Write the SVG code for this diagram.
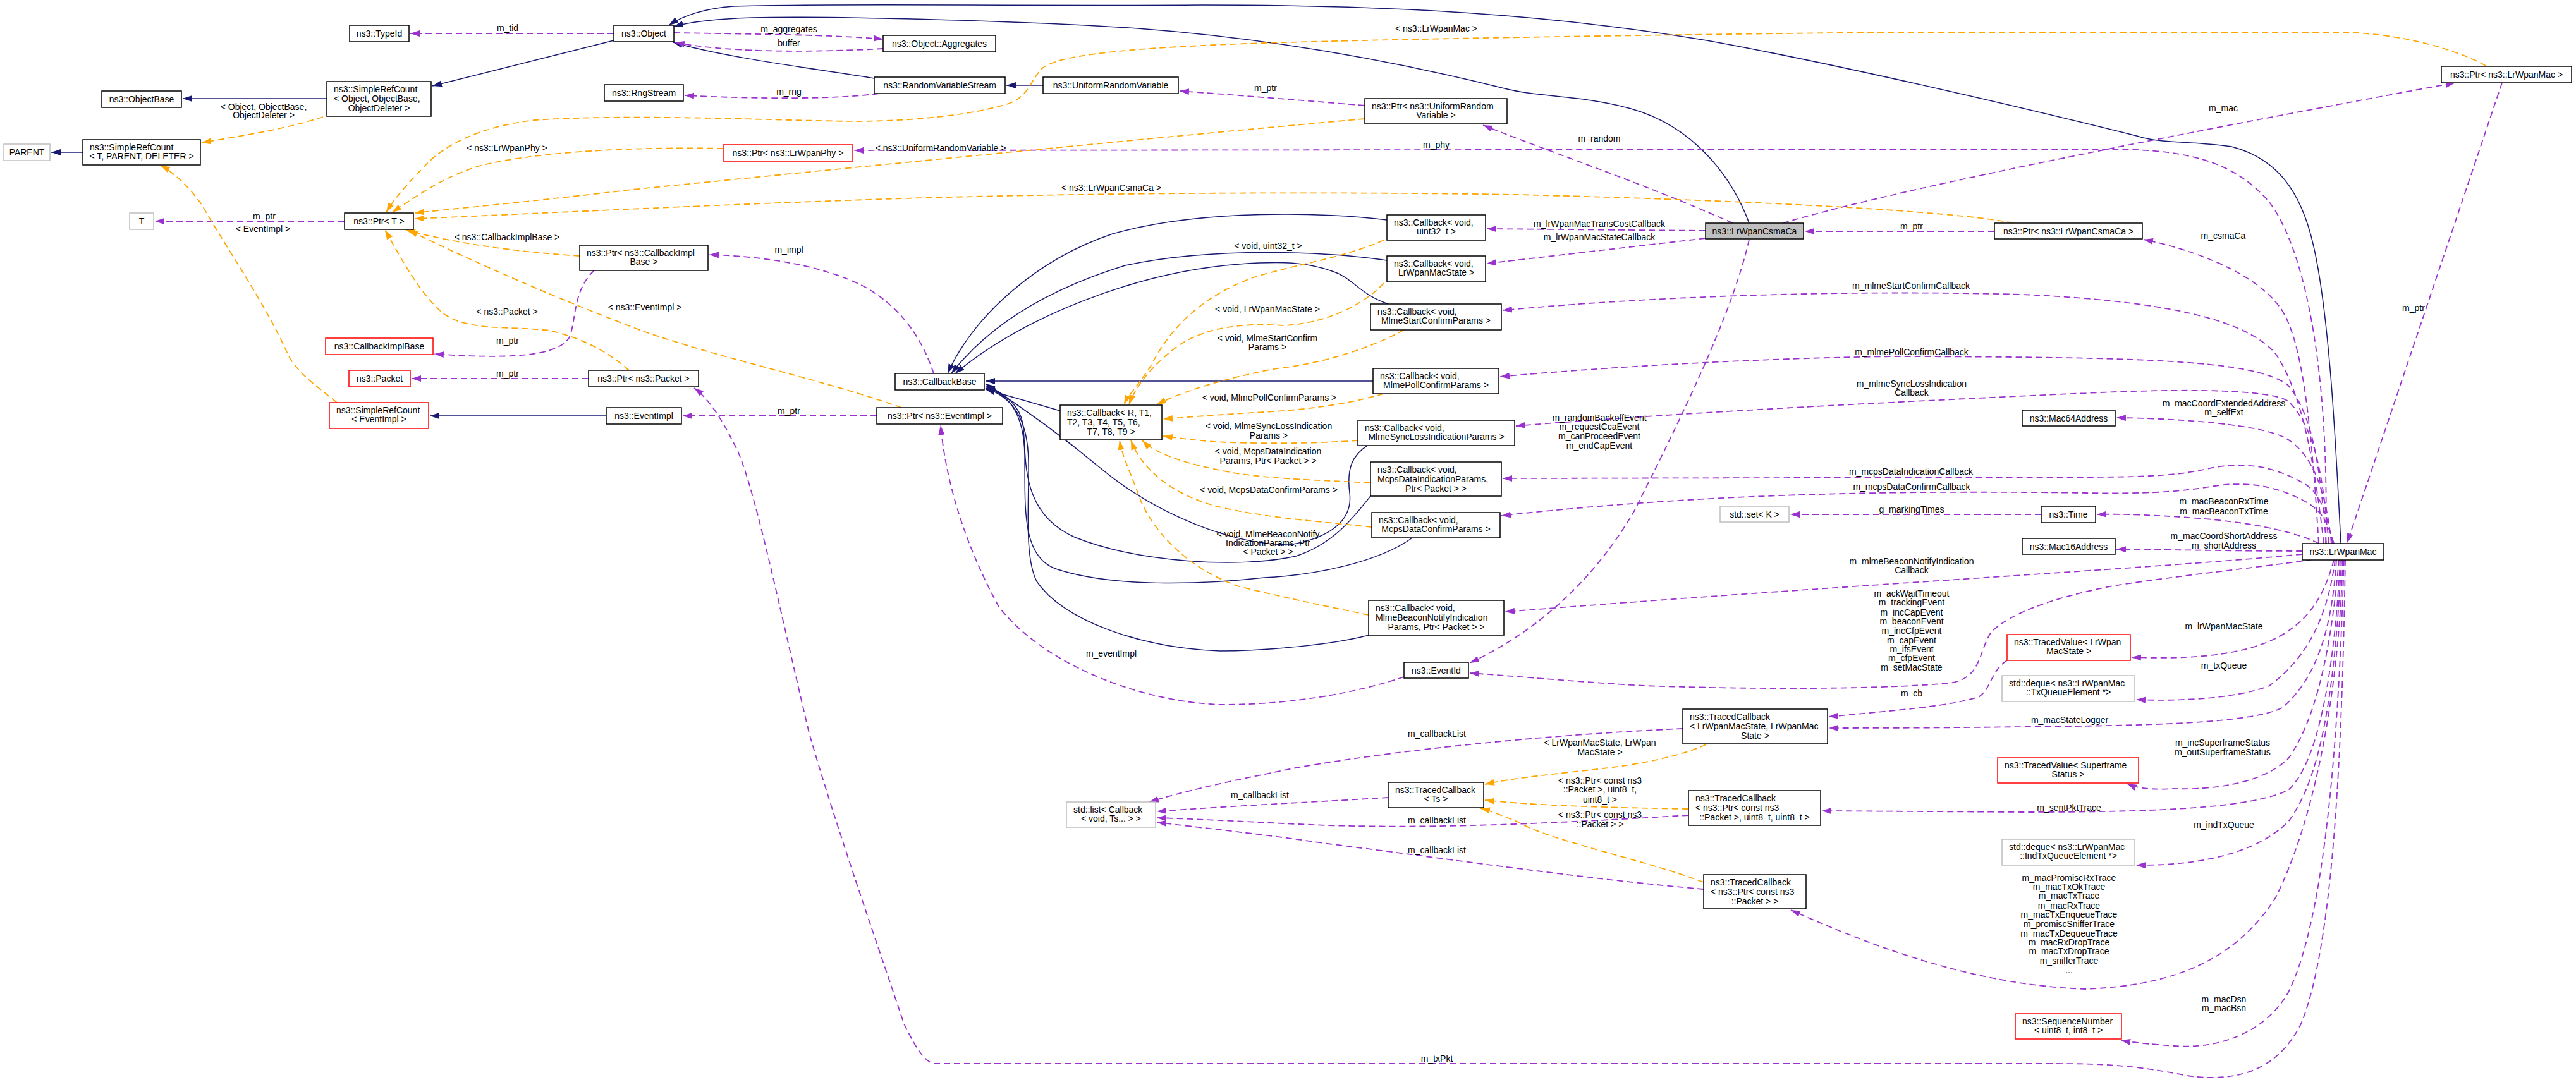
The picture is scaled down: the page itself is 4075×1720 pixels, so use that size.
<svg xmlns="http://www.w3.org/2000/svg" width="4075" height="1720" viewBox="0 0 4075 1720">
<style>
.n rect{fill:#fff;stroke:#000;stroke-width:1.5}
.n.red rect{stroke:#ff0000}
.n.ext rect{stroke:#bfbfbf}
.n.focus rect{fill:#bfbfbf}
text{font-family:"Liberation Sans",Arial,sans-serif;font-size:14px;fill:#000}
.c{text-anchor:middle}
.inh{fill:none;stroke:#191970;stroke-width:1.5;marker-end:url(#mb)}
.mem{fill:none;stroke:#9a32cd;stroke-width:1.8;stroke-dasharray:10,6;marker-end:url(#mp)}
.tpl{fill:none;stroke:#ffa500;stroke-width:1.8;stroke-dasharray:10,6;marker-end:url(#mo)}
</style>
<defs>
<marker id="mb" markerUnits="userSpaceOnUse" markerWidth="16" markerHeight="12" refX="15" refY="5" orient="auto"><path d="M0,0 L15,5 L0,10 z" fill="#191970"/></marker>
<marker id="mp" markerUnits="userSpaceOnUse" markerWidth="16" markerHeight="12" refX="15" refY="5" orient="auto"><path d="M0,0 L15,5 L0,10 z" fill="#9a32cd"/></marker>
<marker id="mo" markerUnits="userSpaceOnUse" markerWidth="16" markerHeight="12" refX="15" refY="5" orient="auto"><path d="M0,0 L15,5 L0,10 z" fill="#ffa500"/></marker>
</defs>
<rect x="0" y="0" width="4075" height="1720" fill="#fff"/>
<g id="connectors">
<path class="inh" d="M517,156 L289,156"/>
<path class="inh" d="M971,64 L684,136"/>
<path class="inh" d="M131,241 L81,241"/>
<path class="inh" d="M1383,124 C1300,110 1150,92 1065,67"/>
<path class="inh" d="M1650,135 L1592,135"/>
<path class="inh" d="M959,658 L680,658"/>
<path class="inh" d="M2194,348 C2100,336 1900,330 1760,370 C1640,410 1540,500 1499,591"/>
<path class="inh" d="M2194,412 C2100,398 1920,390 1780,420 C1650,460 1560,520 1505,591"/>
<path class="inh" d="M2196,481 C2150,465 2140,440 2110,430 C2070,415 2030,413 1960,418 C1800,430 1620,500 1511,591"/>
<path class="inh" d="M2172,603 L1559,603"/>
<path class="inh" d="M1677,650 L1559,616"/>
<path class="inh" d="M2163,705 C2140,720 2130,740 2135,780 C2140,820 2110,850 2040,862 C1950,862 1830,815 1740,740 C1680,690 1610,640 1559,607"/>
<path class="inh" d="M2168,785 C2140,820 2110,860 2050,880 C1960,900 1800,890 1700,850 C1610,810 1625,720 1618,670 C1612,640 1590,622 1559,610"/>
<path class="inh" d="M2234,851 C2180,890 2080,910 2000,914 C1900,925 1760,930 1670,900 C1615,880 1622,800 1621,720 C1620,660 1600,625 1559,612"/>
<path class="inh" d="M2165,1005 C2110,1020 2000,1030 1930,1030 C1800,1025 1680,980 1640,920 C1620,880 1628,800 1627,730 C1626,660 1600,628 1559,614"/>
<path class="inh" d="M2767,353 C2740,280 2680,200 2580,172 C2500,150 2440,155 2380,140 C2200,95 2000,60 1800,45 C1600,32 1300,25 1190,28 C1130,30 1090,35 1066,42"/>
<path class="inh" d="M3703,860 C3695,700 3685,500 3660,390 C3640,300 3600,250 3530,232 C3460,222 3420,228 3380,215 C3200,170 2900,100 2700,64 C2450,22 2200,8 1900,8 C1600,10 1300,5 1160,10 C1110,14 1080,25 1058,40"/>

<path class="mem" d="M971,53 L649,53"/>
<path class="mem" d="M545,350 L245,350"/>
<path class="mem" d="M1066,52 C1200,54 1320,55 1397,62"/>
<path class="mem" d="M1397,77 C1300,82 1160,85 1068,67"/>
<path class="mem" d="M1390,148 C1330,157 1200,157 1083,151"/>
<path class="mem" d="M2159,167 C2050,158 1950,150 1866,144"/>
<path class="mem" d="M3679,860 C3685,600 3650,400 3590,320 C3530,250 3450,236 3329,236 L1351,238"/>
<path class="mem" d="M2741,353 C2600,290 2450,240 2346,198"/>
<path class="mem" d="M2698,365 L2352,362"/>
<path class="mem" d="M2698,377 L2352,417"/>
<path class="mem" d="M2820,353 C3000,300 3400,220 3884,131"/>
<path class="mem" d="M2767,379 C2740,500 2650,680 2585,809 C2520,920 2430,1000 2325,1049"/>
<path class="mem" d="M3155,366 L2855,366"/>
<path class="mem" d="M3668,860 C3655,650 3640,520 3600,478 C3560,430 3470,395 3391,379"/>
<path class="mem" d="M3958,131 L3713,859"/>
<path class="mem" d="M3676,860 C3660,720 3640,620 3600,560 C3550,500 3400,475 3200,466 C2900,458 2600,470 2377,491"/>
<path class="mem" d="M3680,860 C3670,740 3660,660 3620,610 C3570,570 3400,565 3000,564 C2800,566 2550,580 2373,596"/>
<path class="mem" d="M3684,860 C3675,760 3665,680 3620,635 C3590,615 3450,615 3300,622 C3000,636 2700,650 2398,674"/>
<path class="mem" d="M3688,860 C3680,780 3660,720 3617,694 C3580,672 3450,662 3348,661"/>
<path class="mem" d="M3690,860 C3680,810 3670,780 3645,765 C3600,740 3560,730 3500,740 C3450,752 3400,755 3300,755 L2377,757"/>
<path class="mem" d="M3692,860 C3680,820 3670,805 3640,790 C3600,770 3560,762 3510,768 C3460,776 3420,782 3300,780 C3000,776 2700,780 2375,816"/>
<path class="mem" d="M3229,814 L2832,814"/>
<path class="mem" d="M3668,860 C3640,845 3580,830 3500,822 C3420,815 3360,813 3317,814"/>
<path class="mem" d="M3642,872 C3550,872 3450,870 3348,869"/>
<path class="mem" d="M3642,877 C3400,900 3000,920 2381,968"/>
<path class="mem" d="M3658,885 C3600,895 3450,910 3343,927 C3250,945 3180,970 3150,1000 C3130,1030 3135,1070 3090,1080 C3000,1090 2800,1092 2600,1085 C2480,1078 2400,1070 2325,1065"/>
<path class="mem" d="M3175,1045 C3150,1060 3150,1090 3130,1103 C3080,1118 3000,1124 2893,1134"/>
<path class="mem" d="M3692,886 C3680,930 3660,980 3600,1010 C3540,1040 3450,1043 3372,1040"/>
<path class="mem" d="M3694,886 C3685,950 3665,1030 3590,1085 C3540,1105 3450,1110 3379,1107"/>
<path class="mem" d="M3696,886 C3690,980 3670,1070 3610,1120 C3560,1145 3400,1148 3200,1150 C3050,1152 2950,1152 2893,1152"/>
<path class="mem" d="M3700,886 C3690,1000 3670,1130 3620,1200 C3580,1240 3500,1250 3440,1248 C3400,1250 3380,1247 3365,1240"/>
<path class="mem" d="M3702,886 C3695,1020 3675,1200 3620,1250 C3560,1280 3400,1285 3200,1285 L2882,1283"/>
<path class="mem" d="M3704,886 C3695,1050 3680,1220 3620,1300 C3570,1350 3480,1370 3379,1369"/>
<path class="mem" d="M3706,886 C3700,1100 3660,1300 3600,1420 C3530,1530 3420,1560 3300,1565 C3150,1560 3000,1515 2833,1440"/>
<path class="mem" d="M3708,886 C3700,1150 3680,1450 3620,1570 C3580,1640 3500,1660 3440,1655 C3400,1652 3375,1650 3355,1646"/>
<path class="mem" d="M3710,886 C3705,1200 3690,1500 3640,1620 C3600,1700 3530,1712 3460,1702 C3380,1686 3330,1683 3250,1683 L1478,1683 C1460,1680 1445,1650 1430,1620 C1390,1500 1320,1300 1280,1160 C1230,950 1190,750 1160,700 C1140,660 1120,630 1098,614"/>
<path class="mem" d="M931,599 L651,599"/>
<path class="mem" d="M1387,658 L1080,658"/>
<path class="mem" d="M940,428 C905,460 912,510 900,535 C880,565 800,568 687,560"/>
<path class="mem" d="M1477,591 C1460,540 1430,490 1370,455 C1300,418 1200,405 1122,403"/>
<path class="mem" d="M2221,1071 C2150,1095 2050,1115 1930,1115 C1800,1110 1650,1050 1580,960 C1520,850 1495,750 1488,673"/>
<path class="mem" d="M2662,1153 C2500,1160 2250,1180 2050,1215 C1950,1235 1880,1250 1818,1269"/>
<path class="mem" d="M2196,1262 C2100,1268 1950,1275 1830,1284"/>
<path class="mem" d="M2671,1290 C2500,1300 2300,1312 2100,1306 C2000,1302 1900,1296 1830,1294"/>
<path class="mem" d="M2695,1407 C2500,1390 2300,1360 2100,1335 C2000,1320 1900,1310 1830,1301"/>

<path class="tpl" d="M511,185 C450,205 380,215 319,226"/>
<path class="tpl" d="M533,637 C500,610 470,590 455,560 C420,480 350,380 320,325 C295,290 270,270 254,262"/>
<path class="tpl" d="M3932,104 C3890,80 3800,52 3700,51 L3000,51 C2600,55 2200,62 2000,68 C1800,75 1680,85 1650,107 C1630,125 1630,150 1598,163 C1550,180 1450,192 1351,192 C1200,190 1000,180 846,190 C760,200 700,230 670,265 C640,295 620,320 611,336"/>
<path class="tpl" d="M1144,235 C1000,232 850,240 760,262 C700,280 660,310 620,336"/>
<path class="tpl" d="M2159,188 C1800,220 1300,270 1000,300 C850,318 720,330 656,337"/>
<path class="tpl" d="M3185,353 C3100,335 2800,318 2400,308 C2100,303 1700,305 1400,315 C1100,325 850,338 656,346"/>
<path class="tpl" d="M917,405 C840,400 740,390 642,364"/>
<path class="tpl" d="M995,586 C960,555 920,535 870,523 C800,515 740,525 700,495 C660,460 630,400 609,364"/>
<path class="tpl" d="M1426,645 C1300,600 1150,570 1020,525 C900,480 760,420 646,364"/>
<path class="tpl" d="M2189,380 C2120,410 2040,420 1980,440 C1900,470 1850,520 1820,580 C1800,610 1785,625 1778,640"/>
<path class="tpl" d="M2189,448 C2160,480 2100,512 2030,515 C1960,510 1900,520 1860,550 C1820,580 1795,615 1786,640"/>
<path class="tpl" d="M2221,522 C2180,545 2100,575 2020,583 C1930,600 1870,620 1830,640"/>
<path class="tpl" d="M2189,623 C2130,640 2070,648 2000,652 C1930,656 1880,660 1840,663"/>
<path class="tpl" d="M2148,697 C2080,702 2000,702 1940,700 C1900,698 1870,694 1840,690"/>
<path class="tpl" d="M2168,764 C2100,760 2020,759 1950,748 C1880,735 1830,720 1807,697"/>
<path class="tpl" d="M2170,834 C2100,826 2000,820 1920,800 C1850,780 1805,740 1789,697"/>
<path class="tpl" d="M2165,973 C2100,960 2030,945 1960,928 C1880,900 1820,840 1800,780 C1785,740 1775,720 1771,697"/>
<path class="tpl" d="M2699,1178 C2650,1200 2580,1212 2500,1220 C2430,1228 2390,1232 2349,1241"/>
<path class="tpl" d="M2671,1280 C2550,1278 2430,1275 2349,1266"/>
<path class="tpl" d="M2695,1396 C2600,1360 2450,1330 2400,1300 C2370,1288 2355,1282 2342,1279"/>
</g>
<g id="edge-labels">
<text class="c" x="803" y="49">m_tid</text>
<text class="c" x="1248" y="51">m_aggregates</text>
<text class="c" x="1248" y="73">buffer</text>
<text class="c" x="417" y="174">&lt; Object, ObjectBase,</text>
<text class="c" x="417" y="187">ObjectDeleter &gt;</text>
<text class="c" x="1248" y="150">m_rng</text>
<text class="c" x="2002" y="144">m_ptr</text>
<text class="c" x="2272" y="50">&lt; ns3::LrWpanMac &gt;</text>
<text class="c" x="2530" y="224">m_random</text>
<text class="c" x="2272" y="234">m_phy</text>
<text class="c" x="802" y="239">&lt; ns3::LrWpanPhy &gt;</text>
<text class="c" x="1488" y="239">&lt; ns3::UniformRandomVariable &gt;</text>
<text class="c" x="1758" y="302">&lt; ns3::LrWpanCsmaCa &gt;</text>
<text class="c" x="3517" y="176">m_mac</text>
<text class="c" x="418" y="347">m_ptr</text>
<text class="c" x="416" y="367">&lt; EventImpl &gt;</text>
<text class="c" x="2530" y="359">m_lrWpanMacTransCostCallback</text>
<text class="c" x="2530" y="380">m_lrWpanMacStateCallback</text>
<text class="c" x="3024" y="363">m_ptr</text>
<text class="c" x="3517" y="378">m_csmaCa</text>
<text class="c" x="802" y="380">&lt; ns3::CallbackImplBase &gt;</text>
<text class="c" x="1248" y="400">m_impl</text>
<text class="c" x="2006" y="394">&lt; void, uint32_t &gt;</text>
<text class="c" x="3023" y="457">m_mlmeStartConfirmCallback</text>
<text class="c" x="1020" y="491">&lt; ns3::EventImpl &gt;</text>
<text class="c" x="802" y="498">&lt; ns3::Packet &gt;</text>
<text class="c" x="803" y="544">m_ptr</text>
<text class="c" x="2005" y="494">&lt; void, LrWpanMacState &gt;</text>
<text class="c" x="2005" y="540">&lt; void, MlmeStartConfirm</text>
<text class="c" x="2005" y="554">Params &gt;</text>
<text class="c" x="3024" y="562">m_mlmePollConfirmCallback</text>
<text class="c" x="3818" y="492">m_ptr</text>
<text class="c" x="803" y="596">m_ptr</text>
<text class="c" x="3024" y="612">m_mlmeSyncLossIndication</text>
<text class="c" x="3024" y="626">Callback</text>
<text class="c" x="2008" y="634">&lt; void, MlmePollConfirmParams &gt;</text>
<text class="c" x="3518" y="643">m_macCoordExtendedAddress</text>
<text class="c" x="3518" y="657">m_selfExt</text>
<text class="c" x="1248" y="655">m_ptr</text>
<text class="c" x="2530" y="666">m_randomBackoffEvent</text>
<text class="c" x="2530" y="680">m_requestCcaEvent</text>
<text class="c" x="2530" y="695">m_canProceedEvent</text>
<text class="c" x="2530" y="710">m_endCapEvent</text>
<text class="c" x="2007" y="679">&lt; void, MlmeSyncLossIndication</text>
<text class="c" x="2007" y="694">Params &gt;</text>
<text class="c" x="2006" y="719">&lt; void, McpsDataIndication</text>
<text class="c" x="2006" y="734">Params, Ptr&lt; Packet &gt; &gt;</text>
<text class="c" x="3023" y="751">m_mcpsDataIndicationCallback</text>
<text class="c" x="3024" y="775">m_mcpsDataConfirmCallback</text>
<text class="c" x="2007" y="780">&lt; void, McpsDataConfirmParams &gt;</text>
<text class="c" x="3518" y="798">m_macBeaconRxTime</text>
<text class="c" x="3518" y="814">m_macBeaconTxTime</text>
<text class="c" x="3024" y="811">g_markingTimes</text>
<text class="c" x="2006" y="850">&lt; void, MlmeBeaconNotify</text>
<text class="c" x="2006" y="864">IndicationParams, Ptr</text>
<text class="c" x="2006" y="878">&lt; Packet &gt; &gt;</text>
<text class="c" x="3518" y="853">m_macCoordShortAddress</text>
<text class="c" x="3518" y="868">m_shortAddress</text>
<text class="c" x="3024" y="893">m_mlmeBeaconNotifyIndication</text>
<text class="c" x="3024" y="907">Callback</text>
<text class="c" x="3024" y="944">m_ackWaitTimeout</text>
<text class="c" x="3024" y="958">m_trackingEvent</text>
<text class="c" x="3024" y="974">m_incCapEvent</text>
<text class="c" x="3024" y="988">m_beaconEvent</text>
<text class="c" x="3024" y="1003">m_incCfpEvent</text>
<text class="c" x="3024" y="1018">m_capEvent</text>
<text class="c" x="3024" y="1032">m_ifsEvent</text>
<text class="c" x="3024" y="1046">m_cfpEvent</text>
<text class="c" x="3024" y="1061">m_setMacState</text>
<text class="c" x="3518" y="996">m_lrWpanMacState</text>
<text class="c" x="1758" y="1039">m_eventImpl</text>
<text class="c" x="3518" y="1058">m_txQueue</text>
<text class="c" x="3024" y="1102">m_cb</text>
<text class="c" x="3274" y="1144">m_macStateLogger</text>
<text class="c" x="2273" y="1166">m_callbackList</text>
<text class="c" x="2531" y="1180">&lt; LrWpanMacState, LrWpan</text>
<text class="c" x="2531" y="1195">MacState &gt;</text>
<text class="c" x="3516" y="1180">m_incSuperframeStatus</text>
<text class="c" x="3516" y="1195">m_outSuperframeStatus</text>
<text class="c" x="2531" y="1240">&lt; ns3::Ptr&lt; const ns3</text>
<text class="c" x="2531" y="1254">::Packet &gt;, uint8_t,</text>
<text class="c" x="2531" y="1270">uint8_t &gt;</text>
<text class="c" x="1993" y="1263">m_callbackList</text>
<text class="c" x="3273" y="1283">m_sentPktTrace</text>
<text class="c" x="2531" y="1294">&lt; ns3::Ptr&lt; const ns3</text>
<text class="c" x="2531" y="1309">::Packet &gt; &gt;</text>
<text class="c" x="2273" y="1303">m_callbackList</text>
<text class="c" x="3518" y="1310">m_indTxQueue</text>
<text class="c" x="2273" y="1350">m_callbackList</text>
<text class="c" x="3273" y="1394">m_macPromiscRxTrace</text>
<text class="c" x="3273" y="1408">m_macTxOkTrace</text>
<text class="c" x="3273" y="1422">m_macTxTrace</text>
<text class="c" x="3273" y="1438">m_macRxTrace</text>
<text class="c" x="3273" y="1452">m_macTxEnqueueTrace</text>
<text class="c" x="3273" y="1467">m_promiscSnifferTrace</text>
<text class="c" x="3273" y="1482">m_macTxDequeueTrace</text>
<text class="c" x="3273" y="1496">m_macRxDropTrace</text>
<text class="c" x="3273" y="1510">m_macTxDropTrace</text>
<text class="c" x="3273" y="1525">m_snifferTrace</text>
<text class="c" x="3273" y="1540">...</text>
<text class="c" x="3518" y="1586">m_macDsn</text>
<text class="c" x="3518" y="1600">m_macBsn</text>
<text class="c" x="2273" y="1680">m_txPkt</text>
</g>
<g id="nodes">
<g id="n-typeid" class="n"><rect x="553" y="40" width="94" height="26"/><text class="c" x="600" y="58">ns3::TypeId</text></g>
<g id="n-object" class="n"><rect x="971" y="40" width="95" height="26"/><text class="c" x="1018.5" y="58">ns3::Object</text></g>
<g id="n-objectbase" class="n"><rect x="161" y="144" width="126" height="26"/><text class="c" x="224" y="162">ns3::ObjectBase</text></g>
<g id="n-src-object" class="n"><rect x="517" y="129" width="165" height="55"/><text x="528" y="145.5">ns3::SimpleRefCount</text><text x="528" y="160.5">&lt; Object, ObjectBase,</text><text class="c" x="599.5" y="175.5">ObjectDeleter &gt;</text></g>
<g id="n-parent" class="n ext"><rect x="6" y="228" width="73" height="26"/><text class="c" x="42.5" y="246">PARENT</text></g>
<g id="n-src-t" class="n"><rect x="131" y="221" width="186" height="40"/><text x="142" y="238">ns3::SimpleRefCount</text><text class="c" x="224" y="252">&lt; T, PARENT, DELETER &gt;</text></g>
<g id="n-rngstream" class="n"><rect x="956" y="134" width="125" height="26"/><text class="c" x="1018.5" y="152">ns3::RngStream</text></g>
<g id="n-aggregates" class="n"><rect x="1397" y="56" width="178" height="26"/><text class="c" x="1486" y="74">ns3::Object::Aggregates</text></g>
<g id="n-rvs" class="n"><rect x="1383" y="122" width="207" height="26"/><text class="c" x="1486.5" y="140">ns3::RandomVariableStream</text></g>
<g id="n-urv" class="n"><rect x="1650" y="122" width="214" height="26"/><text class="c" x="1757" y="140">ns3::UniformRandomVariable</text></g>
<g id="n-t" class="n ext"><rect x="205" y="337" width="38" height="26"/><text class="c" x="224" y="355">T</text></g>
<g id="n-ptr-t" class="n"><rect x="545" y="337" width="109" height="26"/><text class="c" x="599.5" y="355">ns3::Ptr&lt; T &gt;</text></g>
<g id="n-ptr-phy" class="n red"><rect x="1144" y="229" width="205" height="26"/><text class="c" x="1246.5" y="247">ns3::Ptr&lt; ns3::LrWpanPhy &gt;</text></g>
<g id="n-ptr-urv" class="n"><rect x="2159" y="156" width="225" height="40"/><text x="2170" y="173">ns3::Ptr&lt; ns3::UniformRandom</text><text class="c" x="2271.5" y="187">Variable &gt;</text></g>
<g id="n-ptr-cbib" class="n"><rect x="917" y="388" width="203" height="40"/><text x="928" y="405">ns3::Ptr&lt; ns3::CallbackImpl</text><text class="c" x="1018.5" y="419">Base &gt;</text></g>
<g id="n-cbib" class="n red"><rect x="515" y="535" width="170" height="26"/><text class="c" x="600" y="553">ns3::CallbackImplBase</text></g>
<g id="n-packet" class="n red"><rect x="552" y="586" width="97" height="26"/><text class="c" x="600.5" y="604">ns3::Packet</text></g>
<g id="n-ptr-packet" class="n"><rect x="931" y="586" width="174" height="26"/><text class="c" x="1018" y="604">ns3::Ptr&lt; ns3::Packet &gt;</text></g>
<g id="n-src-eventimpl" class="n red"><rect x="521" y="637" width="157" height="41"/><text x="532" y="654">ns3::SimpleRefCount</text><text class="c" x="599.5" y="668">&lt; EventImpl &gt;</text></g>
<g id="n-eventimpl" class="n"><rect x="959" y="645" width="119" height="26"/><text class="c" x="1018.5" y="663">ns3::EventImpl</text></g>
<g id="n-callbackbase" class="n"><rect x="1416" y="591" width="141" height="26"/><text class="c" x="1486.5" y="609">ns3::CallbackBase</text></g>
<g id="n-ptr-eventimpl" class="n"><rect x="1387" y="645" width="199" height="26"/><text class="c" x="1486.5" y="663">ns3::Ptr&lt; ns3::EventImpl &gt;</text></g>
<g id="n-callback-r" class="n"><rect x="1677" y="641" width="161" height="55"/><text x="1688" y="657.5">ns3::Callback&lt; R, T1,</text><text x="1688" y="672.5">T2, T3, T4, T5, T6,</text><text class="c" x="1757.5" y="687.5">T7, T8, T9 &gt;</text></g>
<g id="n-cb-uint32" class="n"><rect x="2194" y="340" width="156" height="40"/><text x="2205" y="357">ns3::Callback&lt; void,</text><text class="c" x="2272" y="371">uint32_t &gt;</text></g>
<g id="n-cb-macstate" class="n"><rect x="2194" y="405" width="156" height="41"/><text x="2205" y="422">ns3::Callback&lt; void,</text><text class="c" x="2272" y="436">LrWpanMacState &gt;</text></g>
<g id="n-cb-mlmestart" class="n"><rect x="2168" y="481" width="207" height="41"/><text x="2179" y="498">ns3::Callback&lt; void,</text><text class="c" x="2271.5" y="512">MlmeStartConfirmParams &gt;</text></g>
<g id="n-cb-mlmepoll" class="n"><rect x="2172" y="583" width="199" height="40"/><text x="2183" y="600">ns3::Callback&lt; void,</text><text class="c" x="2271.5" y="614">MlmePollConfirmParams &gt;</text></g>
<g id="n-cb-syncloss" class="n"><rect x="2148" y="665" width="248" height="40"/><text x="2159" y="682">ns3::Callback&lt; void,</text><text class="c" x="2272" y="696">MlmeSyncLossIndicationParams &gt;</text></g>
<g id="n-cb-mcpsind" class="n"><rect x="2168" y="731" width="207" height="54"/><text x="2179" y="747.5">ns3::Callback&lt; void,</text><text x="2179" y="762.5">McpsDataIndicationParams,</text><text class="c" x="2271.5" y="777.5">Ptr&lt; Packet &gt; &gt;</text></g>
<g id="n-cb-mcpsconf" class="n"><rect x="2170" y="811" width="203" height="40"/><text x="2181" y="828">ns3::Callback&lt; void,</text><text class="c" x="2271.5" y="842">McpsDataConfirmParams &gt;</text></g>
<g id="n-cb-beacon" class="n"><rect x="2165" y="950" width="214" height="55"/><text x="2176" y="966.5">ns3::Callback&lt; void,</text><text x="2176" y="981.5">MlmeBeaconNotifyIndication</text><text class="c" x="2272" y="996.5">Params, Ptr&lt; Packet &gt; &gt;</text></g>
<g id="n-eventid" class="n"><rect x="2221" y="1048" width="102" height="25"/><text class="c" x="2272" y="1065.5">ns3::EventId</text></g>
<g id="n-csmaca" class="n focus"><rect x="2698" y="353" width="155" height="25"/><text class="c" x="2775.5" y="370.5">ns3::LrWpanCsmaCa</text></g>
<g id="n-ptr-csmaca" class="n"><rect x="3155" y="353" width="234" height="25"/><text class="c" x="3272" y="370.5">ns3::Ptr&lt; ns3::LrWpanCsmaCa &gt;</text></g>
<g id="n-ptr-mac" class="n"><rect x="3862" y="105" width="206" height="26"/><text class="c" x="3965" y="123">ns3::Ptr&lt; ns3::LrWpanMac &gt;</text></g>
<g id="n-set" class="n ext"><rect x="2721" y="801" width="109" height="25"/><text class="c" x="2775.5" y="818.5">std::set&lt; K &gt;</text></g>
<g id="n-mac64" class="n"><rect x="3199" y="649" width="147" height="25"/><text class="c" x="3272.5" y="666.5">ns3::Mac64Address</text></g>
<g id="n-time" class="n"><rect x="3229" y="801" width="86" height="26"/><text class="c" x="3272" y="819">ns3::Time</text></g>
<g id="n-mac16" class="n"><rect x="3199" y="852" width="147" height="25"/><text class="c" x="3272.5" y="869.5">ns3::Mac16Address</text></g>
<g id="n-lrwpanmac" class="n"><rect x="3642" y="860" width="129" height="26"/><text class="c" x="3706.5" y="878">ns3::LrWpanMac</text></g>
<g id="n-tv-macstate" class="n red"><rect x="3175" y="1004" width="195" height="41"/><text x="3186" y="1021">ns3::TracedValue&lt; LrWpan</text><text class="c" x="3272.5" y="1035">MacState &gt;</text></g>
<g id="n-deque-tx" class="n ext"><rect x="3167" y="1069" width="210" height="41"/><text x="3178" y="1086">std::deque&lt; ns3::LrWpanMac</text><text class="c" x="3272" y="1100">::TxQueueElement *&gt;</text></g>
<g id="n-tc-macstate" class="n"><rect x="2662" y="1122" width="229" height="55"/><text x="2673" y="1138.5">ns3::TracedCallback</text><text x="2673" y="1153.5">&lt; LrWpanMacState, LrWpanMac</text><text class="c" x="2776.5" y="1168.5">State &gt;</text></g>
<g id="n-tv-superframe" class="n red"><rect x="3160" y="1199" width="223" height="40"/><text x="3171" y="1216">ns3::TracedValue&lt; Superframe</text><text class="c" x="3271.5" y="1230">Status &gt;</text></g>
<g id="n-list" class="n ext"><rect x="1687" y="1269" width="141" height="40"/><text x="1698" y="1286">std::list&lt; Callback</text><text class="c" x="1757.5" y="1300">&lt; void, Ts... &gt; &gt;</text></g>
<g id="n-tc-ts" class="n"><rect x="2196" y="1238" width="151" height="40"/><text x="2207" y="1255">ns3::TracedCallback</text><text class="c" x="2271.5" y="1269">&lt; Ts &gt;</text></g>
<g id="n-tc-pkt-u8" class="n"><rect x="2671" y="1251" width="209" height="55"/><text x="2682" y="1267.5">ns3::TracedCallback</text><text x="2682" y="1282.5">&lt; ns3::Ptr&lt; const ns3</text><text class="c" x="2775.5" y="1297.5">::Packet &gt;, uint8_t, uint8_t &gt;</text></g>
<g id="n-deque-indtx" class="n ext"><rect x="3167" y="1328" width="210" height="41"/><text x="3178" y="1345">std::deque&lt; ns3::LrWpanMac</text><text class="c" x="3272" y="1359">::IndTxQueueElement *&gt;</text></g>
<g id="n-tc-pkt" class="n"><rect x="2695" y="1384" width="162" height="54"/><text x="2706" y="1400.5">ns3::TracedCallback</text><text x="2706" y="1415.5">&lt; ns3::Ptr&lt; const ns3</text><text class="c" x="2776" y="1430.5">::Packet &gt; &gt;</text></g>
<g id="n-seqnum" class="n red"><rect x="3188" y="1604" width="168" height="40"/><text x="3199" y="1621">ns3::SequenceNumber</text><text class="c" x="3272" y="1635">&lt; uint8_t, int8_t &gt;</text></g>
</g>
</svg>
